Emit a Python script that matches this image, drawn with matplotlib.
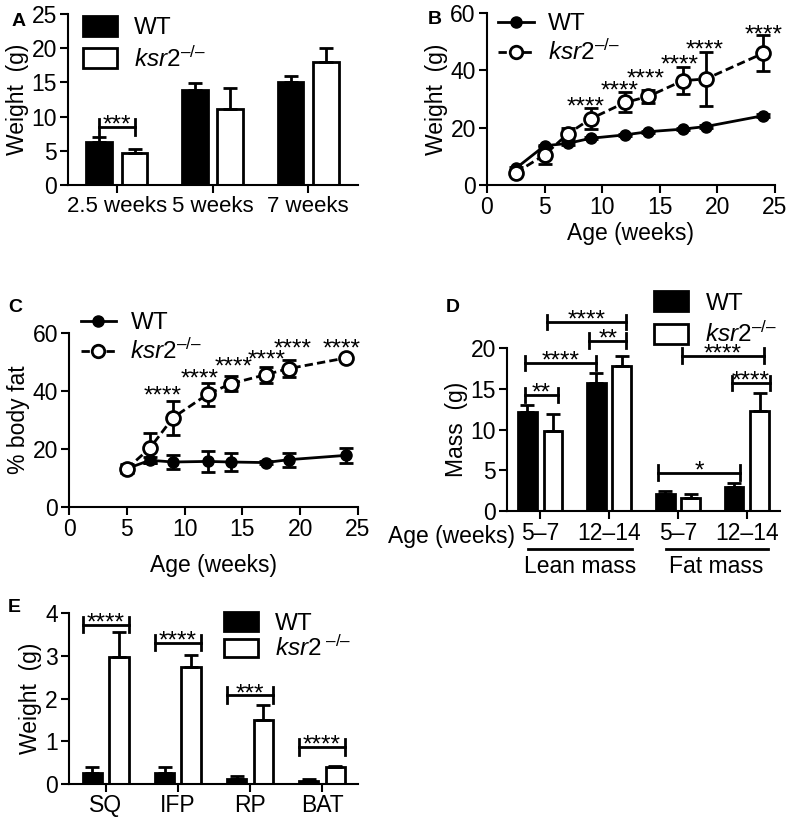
import numpy as np
import matplotlib
matplotlib.use("Agg")
import matplotlib.pyplot as plt
from matplotlib.lines import Line2D

plt.rcParams['font.family'] = ['Liberation Sans', 'DejaVu Sans']
plt.rcParams['mathtext.fontset'] = 'custom'
plt.rcParams['mathtext.rm'] = 'Liberation Sans'
plt.rcParams['mathtext.it'] = 'Liberation Sans:italic'
plt.rcParams['mathtext.bf'] = 'Liberation Sans:bold'
plt.rcParams['axes.linewidth'] = 1.5

# ---- データ ----
# A: 体重 (棒グラフ)
groups_a = ['2.5 weeks', '5 weeks', '7 weeks']
wt_a = [6.3, 13.9, 15.1]
wt_a_err = [0.7, 1.0, 0.9]
ko_a = [4.7, 11.1, 18.0]
ko_a_err = [0.6, 3.1, 2.1]

# B: 体重の推移
weeks_b = [2.5, 5, 7, 9, 12, 14, 17, 19, 24]
wt_b = [5.8, 13.7, 14.5, 16.3, 17.5, 18.6, 19.5, 20.4, 24.2]
wt_b_err = [0.4, 0.4, 0.4, 0.4, 0.4, 0.4, 0.4, 0.4, 0.4]
ko_b = [4.3, 10.5, 17.8, 23.1, 28.8, 30.9, 36.4, 37.0, 46.0]
ko_b_err = [0.8, 3.0, 2.2, 3.6, 3.5, 2.3, 4.7, 9.3, 6.3]
stars_b_x = [8.6, 11.5, 13.8, 16.7, 18.9, 24.0]
stars_b_y = [29.7, 35.5, 39.6, 44.3, 49.5, 54.8]

# C: 体脂肪率
weeks_c = [5, 7, 9, 12, 14, 17, 19, 24]
wt_c = [13.2, 16.1, 15.5, 15.7, 15.5, 15.3, 16.3, 17.8]
wt_c_err = [1.2, 1.0, 2.5, 3.7, 3.1, 0.5, 2.4, 2.5]
ko_c = [13.2, 20.3, 30.8, 38.9, 42.5, 45.6, 47.7, 51.4]
ko_c_err = [1.5, 5.2, 5.9, 4.0, 2.6, 2.7, 2.9, 0.8]
stars_c_x = [8.1, 11.3, 14.2, 17.1, 19.3, 23.6]
stars_c_y = [40.8, 46.8, 50.8, 53.1, 56.9, 57.1]

# D: 除脂肪量・脂肪量
groups_d = ['5–7', '12–14', '5–7', '12–14']
wt_d = [12.2, 15.7, 2.1, 2.9]
wt_d_err = [0.8, 1.3, 0.4, 0.6]
ko_d = [9.8, 17.8, 1.6, 12.3]
ko_d_err = [2.1, 1.2, 0.5, 2.2]

# E: 脂肪組織重量
tissues_e = ['SQ', 'IFP', 'RP', 'BAT']
wt_e = [0.25, 0.25, 0.11, 0.08]
wt_e_err = [0.15, 0.15, 0.09, 0.03]
ko_e = [2.97, 2.74, 1.51, 0.40]
ko_e_err = [0.59, 0.29, 0.34, 0.03]
sig_e_y = [3.73, 3.31, 2.08, 0.87]
sig_e = ['****', '****', '***', '****']

KO = r'$\mathit{ksr2}^{\mathit{–/–}}$'
FS = 16.5    # 目盛ラベル
LFS = 16.5   # 軸ラベル
SFS = 17.5   # アスタリスク
OFF = 0.185
BW = 0.27


def style(ax):
    ax.spines['top'].set_visible(False)
    ax.spines['right'].set_visible(False)
    ax.tick_params(width=1.5, length=6, labelsize=FS, pad=2)


def bars(ax, wt, wt_err, ko, ko_err):
    x = np.arange(len(wt))
    ekw = dict(ecolor='black', elinewidth=2, capsize=5, capthick=2)
    b1 = ax.bar(x - OFF, wt, BW, color='black', edgecolor='black', lw=2,
                yerr=[np.zeros(len(wt)), wt_err], error_kw=ekw, label='WT')
    b2 = ax.bar(x + OFF, ko, BW, color='white', edgecolor='black', lw=2,
                yerr=[np.zeros(len(ko)), ko_err], error_kw=ekw, label=KO)
    return b1, b2


def bracket(ax, x1, x2, y, d, txt):
    ax.plot([x1, x2], [y, y], color='black', lw=2, clip_on=False)
    ax.plot([x1, x1], [y - d, y + d], color='black', lw=2, clip_on=False)
    ax.plot([x2, x2], [y - d, y + d], color='black', lw=2, clip_on=False)
    ax.annotate(txt, xy=((x1 + x2) / 2, y), xytext=(0, -3.5), textcoords='offset points',
                ha='center', va='baseline', fontsize=SFS, annotation_clip=False)


def bar_legend(ax, anchor, label=KO, spacing=0.3, hh=0.9):
    h = [plt.Rectangle((0, 0), 1, 1, facecolor='black', edgecolor='black', lw=2),
         plt.Rectangle((0, 0), 1, 1, facecolor='white', edgecolor='black', lw=2)]
    ax.legend(h, ['WT', label], loc='upper left', bbox_to_anchor=anchor, frameon=False,
              fontsize=17.5, handlelength=1.4, handleheight=hh, handletextpad=0.7,
              labelspacing=spacing, borderpad=0, borderaxespad=0)


def line_legend(ax, anchor):
    h = [Line2D([], [], color='black', lw=2, marker='o', ms=8),
         Line2D([], [], color='black', lw=2, ls=(0, (3, 1.5)), marker='o', ms=9,
                mfc='white', mec='black', mew=2)]
    ax.legend(h, ['WT', KO], loc='upper left', bbox_to_anchor=anchor, frameon=False,
              fontsize=17.5, handlelength=1.45, handletextpad=0.6,
              labelspacing=0.2, borderpad=0, borderaxespad=0)


def lines(ax, wx, wy, we, kx, ky, ke):
    ax.errorbar(wx, wy, yerr=we, fmt='-o', color='black', ms=8, lw=2,
                elinewidth=2, capsize=5, capthick=2, clip_on=False, zorder=3)
    ax.errorbar(kx, ky, yerr=ke, fmt='o', ls=(0, (3, 1.5)), color='black', ms=10,
                mfc='white', mec='black', mew=2, lw=2,
                elinewidth=2, capsize=5, capthick=2, clip_on=False, zorder=4)


def stars(ax, xs, ys):
    for sx, sy in zip(xs, ys):
        ax.annotate('****', xy=(sx, sy), xytext=(0, -10), textcoords='offset points',
                    ha='center', va='baseline', fontsize=SFS, annotation_clip=False)


fig = plt.figure(figsize=(7.89, 8.19), dpi=100)

# ---- A ----
axA = fig.add_axes([0.0862, 0.7741, 0.3676, 0.2088])
bars(axA, wt_a, wt_a_err, ko_a, ko_a_err)
axA.set_xlim(-0.51, 2.52)
axA.set_ylim(0, 25)
axA.set_yticks([0, 5, 10, 15, 20, 25])
axA.set_xticks(range(3))
axA.set_xticklabels(groups_a)
axA.set_ylabel('Weight  (g)', fontsize=LFS, labelpad=2)
style(axA)
axA.tick_params(axis='x', labelsize=16)
bracket(axA, -OFF, OFF, 8.5, 1.2, '***')
bar_legend(axA, (0.05, 0.99))

# ---- B ----
axB = fig.add_axes([0.6172, 0.7741, 0.365, 0.21])
lines(axB, weeks_b, wt_b, wt_b_err, weeks_b, ko_b, ko_b_err)
stars(axB, stars_b_x, stars_b_y)
axB.set_xlim(0, 25)
axB.set_ylim(0, 60)
axB.set_xticks([0, 5, 10, 15, 20, 25])
axB.set_yticks([0, 20, 40, 60])
axB.set_xlabel('Age (weeks)', fontsize=LFS, labelpad=2)
axB.set_ylabel('Weight  (g)', fontsize=LFS, labelpad=2)
style(axB)
line_legend(axB, (0.04, 1.0))

# ---- C ----
axC = fig.add_axes([0.0875, 0.381, 0.3663, 0.2125])
lines(axC, weeks_c, wt_c, wt_c_err, weeks_c, ko_c, ko_c_err)
stars(axC, stars_c_x, stars_c_y)
axC.set_xlim(0, 25)
axC.set_ylim(0, 60)
axC.set_xticks([0, 5, 10, 15, 20, 25])
axC.set_yticks([0, 20, 40, 60])
axC.set_xlabel('Age (weeks)', fontsize=LFS, labelpad=9)
axC.set_ylabel('% body fat', fontsize=LFS, labelpad=2)
style(axC)
line_legend(axC, (0.04, 1.12))

# ---- D ----
axD = fig.add_axes([0.6426, 0.376, 0.346, 0.199])
bars(axD, wt_d, wt_d_err, ko_d, ko_d_err)
axD.set_xlim(-0.48, 3.48)
axD.set_ylim(0, 20)
axD.set_yticks([0, 5, 10, 15, 20])
axD.set_xticks(range(4))
axD.set_xticklabels(groups_d)
axD.set_ylabel('Mass  (g)', fontsize=LFS, labelpad=2)
style(axD)
bracket(axD, -OFF - 0.04, OFF + 0.08, 14.25, 0.9, '**')
bracket(axD, -OFF - 0.04, 1 - OFF, 18.15, 0.9, '****')
bracket(axD, 1 - OFF - 0.1, 1 + OFF + 0.06, 20.9, 0.9, '**')
bracket(axD, OFF - 0.08, 1 + OFF + 0.06, 23.2, 0.9, '****')
bracket(axD, 2 - OFF - 0.1, 3 - OFF + 0.08, 4.7, 0.9, '*')
bracket(axD, 2 + OFF - 0.13, 3 + OFF + 0.06, 19.05, 0.9, '****')
bracket(axD, 3 - OFF - 0.03, 3 + OFF + 0.15, 15.7, 0.9, '****')
bar_legend(axD, (0.54, 1.35))
# 年齢と群ラベル
axD.text(-0.37, -0.085, 'Age (weeks)', transform=axD.get_xaxis_transform(),
         ha='right', va='top', fontsize=FS)
for x1, x2, lab in [(-0.17, 1.33, 'Lean mass'), (1.82, 3.3, 'Fat mass')]:
    axD.plot([x1, x2], [-0.23, -0.23], color='black', lw=2,
             transform=axD.get_xaxis_transform(), clip_on=False)
    axD.text((x1 + x2) / 2, -0.27, lab, transform=axD.get_xaxis_transform(),
             ha='center', va='top', fontsize=LFS)

# ---- E ----
axE = fig.add_axes([0.0875, 0.0425, 0.3663, 0.209])
bars(axE, wt_e, wt_e_err, ko_e, ko_e_err)
axE.set_xlim(-0.51, 3.5)
axE.set_ylim(0, 4)
axE.set_yticks([0, 1, 2, 3, 4])
axE.set_xticks(range(4))
axE.set_xticklabels(tissues_e)
axE.set_ylabel('Weight  (g)', fontsize=LFS, labelpad=2)
style(axE)
axE.tick_params(axis='x', pad=1)
for i, (sy, st) in enumerate(zip(sig_e_y, sig_e)):
    bracket(axE, i - OFF - BW / 2, i + OFF + BW / 2, sy, 0.18, st)
bar_legend(axE, (0.535, 1.005), label=r'$\mathit{ksr2}^{\ \mathit{–/–}}$', spacing=0.05, hh=0.8)

# パネルラベル
for lab, px, py in [('A', 12, 22), ('B', 428, 20), ('C', 8, 307), ('D', 446, 307), ('E', 8, 607)]:
    fig.text(px / 789, 1 - py / 819, lab, fontsize=14, fontweight='bold', ha='left', va='center')

fig.savefig('out.png', dpi=100)
